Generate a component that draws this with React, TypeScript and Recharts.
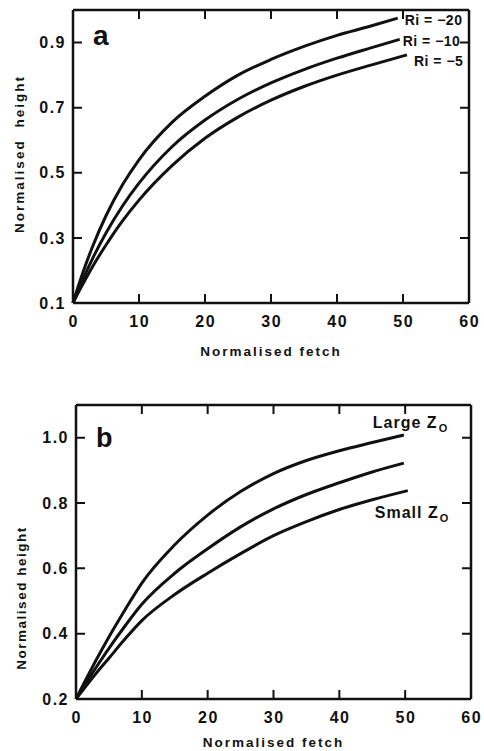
import React from 'react';
import { LineChart, Line, XAxis, YAxis, Label } from 'recharts';

const FONT = '"Liberation Sans", Arial, Helvetica, sans-serif';
const INK = '#111';

// axis ticks
const fetchTicks = [0, 10, 20, 30, 40, 50, 60];
const heightTicksA = [0.1, 0.3, 0.5, 0.7, 0.9];
const heightTicksB = [0.2, 0.4, 0.6, 0.8, 1.0];

// shared fetch grid (last point of each curve is given separately)
const fetchGrid = [0, 1, 2, 3, 5, 7.5, 10, 15, 20, 25, 30, 35, 40, 45];

// panel a: Richardson number curves
const riNames = ['Ri = \u221220', 'Ri = \u221210', 'Ri = \u22125'];
const riEndFetch = [49.2, 49.5, 50.6];
const riMinus20 = [0.1, 0.164, 0.222, 0.275, 0.368, 0.463, 0.54, 0.655, 0.735, 0.8, 0.848, 0.888, 0.922, 0.95, 0.975];
const riMinus10 = [0.1, 0.149, 0.195, 0.238, 0.315, 0.398, 0.468, 0.58, 0.662, 0.726, 0.776, 0.817, 0.852, 0.883, 0.91];
const riMinus5 = [0.1, 0.14, 0.177, 0.213, 0.278, 0.352, 0.416, 0.522, 0.606, 0.671, 0.723, 0.765, 0.8, 0.83, 0.862];

// panel b: roughness length curves
const zNames = ['Large Z', '', 'Small Z'];
const zSub = 'O';
const zEndFetch = [49.8, 49.8, 50.4];
const zLarge = [0.2, 0.24, 0.279, 0.317, 0.39, 0.475, 0.555, 0.672, 0.763, 0.835, 0.89, 0.93, 0.96, 0.985, 1.008];
const zMid = [0.2, 0.232, 0.264, 0.295, 0.355, 0.425, 0.49, 0.585, 0.66, 0.727, 0.782, 0.826, 0.862, 0.895, 0.922];
const zSmall = [0.2, 0.226, 0.252, 0.277, 0.325, 0.385, 0.44, 0.52, 0.585, 0.645, 0.7, 0.743, 0.78, 0.81, 0.838];

const toPoints = (values: number[], endFetch: number) =>
  values.map((h, i) => ({ fetch: i < fetchGrid.length ? fetchGrid[i] : endFetch, height: h }));

const axisLine = { stroke: INK, strokeWidth: 2.5 };
const TICK_LEN = 9;

// plot-area sizes of the two panels (follow from the chart sizes and margins below)
const PLOT_A = { w: 396, h: 293 };
const PLOT_B = { w: 395, h: 294 };

const labelProps = {
  fontFamily: FONT,
  fontSize: 16,
  fontWeight: 700,
  fill: INK,
  letterSpacing: 1.5,
};

// bottom / left ticks: label + inward tick mark, plus the mirrored inward tick on the opposite frame side
const bottomTick = (span: number) => (props: any) => {
  const { x, y, payload } = props;
  const yTop = y - span;
  return (
    <g>
      <path d={`M${x},${y}V${y - TICK_LEN}M${x},${yTop}V${yTop + TICK_LEN}`} stroke={INK} strokeWidth={2} fill="none" />
      <text x={x + 0.75} y={y + 23.5} textAnchor="middle" {...labelProps}>
        {String(payload.value)}
      </text>
    </g>
  );
};

const leftTick = (span: number) => (props: any) => {
  const { x, y, payload } = props;
  const xRight = x + span;
  return (
    <g>
      <path d={`M${x},${y}H${x + TICK_LEN}M${xRight},${y}H${xRight - TICK_LEN}`} stroke={INK} strokeWidth={2} fill="none" />
      <text x={x - 7} y={y + 5.7} textAnchor="end" {...labelProps}>
        {Number(payload.value).toFixed(1)}
      </text>
    </g>
  );
};

const riOffsets = [
  { dx: 7, dy: 7 },
  { dx: 3, dy: 7 },
  { dx: 7, dy: 11 },
];
const zOffsets = [
  { dx: -31, dy: -7 },
  { dx: 0, dy: 0 },
  { dx: -33, dy: 27 },
];

const riLabel = (k: number, last: number) => (props: any) => {
  const { x, y, index } = props;
  if (index !== last || x == null) return <g />;
  return (
    <text
      x={x + riOffsets[k].dx}
      y={y + riOffsets[k].dy}
      fontFamily={FONT}
      fontSize={14}
      fontWeight={700}
      letterSpacing={0.5}
      fill={INK}
    >
      {riNames[k]}
    </text>
  );
};

const zLabel = (k: number, last: number) => (props: any) => {
  const { x, y, index } = props;
  if (index !== last || x == null || !zNames[k]) return <g />;
  return (
    <text
      x={x + zOffsets[k].dx}
      y={y + zOffsets[k].dy}
      fontFamily={FONT}
      fontSize={16}
      fontWeight={700}
      letterSpacing={1}
      fill={INK}
    >
      {zNames[k]}
      <tspan dx={1} dy={4} fontSize={11} letterSpacing={0}>
        {zSub}
      </tspan>
    </text>
  );
};

const panelLetter = (letter: string, dx: number, dy: number, size: number) => (props: any) => {
  const vb = props.viewBox || {};
  return (
    <text x={vb.x + dx} y={vb.y + vb.height + dy} fontFamily={FONT} fontSize={size} fontWeight={700} fill={INK}>
      {letter}
    </text>
  );
};

const xTitle = (dy: number) => (props: any) => {
  const vb = props.viewBox || {};
  return (
    <text
      x={vb.x + vb.width / 2}
      y={vb.y + dy}
      textAnchor="middle"
      fontFamily={FONT}
      fontSize={13.5}
      fontWeight={700}
      letterSpacing={2}
      fill={INK}
    >
      Normalised fetch
    </text>
  );
};

const yTitle = (bx: number, shift: number, ls: number, ws: number) => (props: any) => {
  const vb = props.viewBox || {};
  const cx = vb.x + bx;
  const cy = vb.y + vb.height / 2 + shift;
  return (
    <text
      x={cx}
      y={cy}
      transform={`rotate(-90, ${cx}, ${cy})`}
      textAnchor="middle"
      fontFamily={FONT}
      fontSize={13.5}
      fontWeight={700}
      letterSpacing={ls}
      wordSpacing={ws}
      fill={INK}
    >
      Normalised height
    </text>
  );
};

const riSeries = [riMinus20, riMinus10, riMinus5];
const zSeries = [zLarge, zMid, zSmall];

export default function App() {
  return (
    <div style={{ position: 'absolute', left: 0, top: 0, width: 484, height: 751, background: '#fff' }}>
      <LineChart width={484} height={380} margin={{ top: 9, right: 14, bottom: 17, left: 0 }} style={{ fontFamily: FONT }}>
        <XAxis
          dataKey="fetch"
          type="number"
          domain={[0, 60]}
          ticks={fetchTicks}
          interval={0}
          height={60}
          tickSize={0}
          tickMargin={0}
          axisLine={axisLine}
          tickLine={false}
          tick={bottomTick(PLOT_A.h)}
        >
          <Label content={xTitle(53)} />
        </XAxis>
        <XAxis
          xAxisId="top"
          orientation="top"
          type="number"
          domain={[0, 60]}
          height={1}
          axisLine={axisLine}
          tickLine={false}
          tick={false}
        >
          <Label content={panelLetter('a', 20, 35, 28)} />
        </XAxis>
        <YAxis
          type="number"
          domain={[0.1, 1.0]}
          ticks={heightTicksA}
          interval={0}
          width={73}
          tickSize={0}
          tickMargin={0}
          axisLine={axisLine}
          tickLine={false}
          tick={leftTick(PLOT_A.w)}
        >
          <Label content={yTitle(23.5, -2.5, 2, 6)} />
        </YAxis>
        <YAxis
          yAxisId="right"
          orientation="right"
          type="number"
          domain={[0.1, 1.0]}
          width={1}
          axisLine={axisLine}
          tickLine={false}
          tick={false}
        />
        {riSeries.map((vals, k) => (
          <Line
            key={`ri${k}`}
            data={toPoints(vals, riEndFetch[k])}
            dataKey="height"
            type="monotone"
            stroke={INK}
            strokeWidth={3}
            dot={false}
            isAnimationActive={false}
            label={riLabel(k, vals.length - 1)}
          />
        ))}
      </LineChart>
      <LineChart width={484} height={371} margin={{ top: 24, right: 12, bottom: 7, left: 0 }} style={{ fontFamily: FONT }}>
        <XAxis
          dataKey="fetch"
          type="number"
          domain={[0, 60]}
          ticks={fetchTicks}
          interval={0}
          height={45}
          tickSize={0}
          tickMargin={0}
          axisLine={axisLine}
          tickLine={false}
          tick={bottomTick(PLOT_B.h)}
        >
          <Label content={xTitle(48)} />
        </XAxis>
        <XAxis
          xAxisId="top"
          orientation="top"
          type="number"
          domain={[0, 60]}
          height={1}
          axisLine={axisLine}
          tickLine={false}
          tick={false}
        >
          <Label content={panelLetter('b', 20, 42, 27)} />
        </XAxis>
        <YAxis
          type="number"
          domain={[0.2, 1.1]}
          ticks={heightTicksB}
          interval={0}
          width={76}
          tickSize={0}
          tickMargin={0}
          axisLine={axisLine}
          tickLine={false}
          tick={leftTick(PLOT_B.w)}
        >
          <Label content={yTitle(26, 46, 1.5, 0)} />
        </YAxis>
        <YAxis
          yAxisId="right"
          orientation="right"
          type="number"
          domain={[0.2, 1.1]}
          width={1}
          axisLine={axisLine}
          tickLine={false}
          tick={false}
        />
        {zSeries.map((vals, k) => (
          <Line
            key={`z${k}`}
            data={toPoints(vals, zEndFetch[k])}
            dataKey="height"
            type="monotone"
            stroke={INK}
            strokeWidth={3}
            dot={false}
            isAnimationActive={false}
            label={zLabel(k, vals.length - 1)}
          />
        ))}
      </LineChart>
    </div>
  );
}
